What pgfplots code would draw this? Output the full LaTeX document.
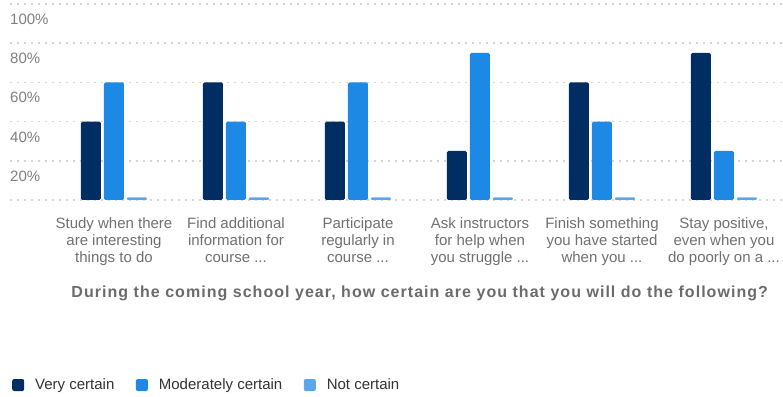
\documentclass[border=0pt]{standalone}
\usepackage{pgfplots}
\pgfplotsset{compat=1.18}
\usepackage{fontspec}
\setmainfont{Liberation Sans}
\newfontfamily\ttlfont[LetterSpace=6.5]{Liberation Sans}
\definecolor{vc}{HTML}{002D62}
\definecolor{mc}{HTML}{1E88E5}
\definecolor{nc}{HTML}{5AA6EC}
\definecolor{tickc}{HTML}{808080}
\definecolor{labc}{HTML}{707070}
\definecolor{ttlc}{HTML}{6B6B6B}
\definecolor{legc}{HTML}{333333}
\definecolor{grdc}{HTML}{D4D4D4}
\newcommand\ddd{.\kern0pt.\kern0pt.}
\begin{document}
\begin{tikzpicture}
\useasboundingbox (0,0) rectangle (783pt,396pt);
\begin{axis}[
 at={(10pt,392pt)}, anchor=north west,
 scale only axis, width=773pt, height=196pt,
 xmin=-0.852, xmax=5.484, ymin=0, ymax=100,
 axis line style={draw=none},
 major tick length=0pt,
 ytick={0,20,40,60,80,100},
 yticklabels={{},20\%,40\%,60\%,80\%,100\%},
 yticklabel style={anchor=base west, inner sep=0pt, yshift=-20.5pt, text=tickc, font=\fontsize{15}{18}\selectfont},
 ymajorgrids,
 grid style={grdc, line width=1.6pt, dash pattern=on 1.6pt off 5.4pt},
 xtick={0,1,2,3,4,5},
 xticklabels={{Study when there\\are interesting\\things to do},{Find additional\\information for\\course \ddd},{Participate\\regularly in\\course \ddd},{Ask instructors\\for help when\\you struggle \ddd},{Finish something\\you have started\\when you \ddd},{Stay positive,\\even when you\\do poorly on a \ddd}},
 xticklabel style={align=center, anchor=north, yshift=-14pt, text=labc, font=\fontsize{15}{16.8}\selectfont},
 xlabel={During the coming school year, how certain are you that you will do the following?},
 xlabel style={at={(axis description cs:0.530,-0.474)}, anchor=center, font=\ttlfont\bfseries\fontsize{16}{18}\selectfont, text=ttlc},
 ybar, bar width=20pt,
 legend columns=3,
 legend style={draw=none, fill=none, at={(axis description cs:0.0026,-0.944)}, anchor=west, font=\fontsize{15}{18}\selectfont, text=legc, inner sep=0pt, nodes={inner sep=0pt}, /tikz/every even column/.append style={column sep=21.5pt}},
 legend image code/.code={\fill[#1, draw=none, rounded corners=2pt] (0pt,-6pt) rectangle (12pt,6pt); \path (23pt,0pt);},
]
\addplot[fill=vc, draw=none, rounded corners=1.5pt, bar shift=-23pt] coordinates {(0,40) (1,60) (2,40) (3,25) (4,60) (5,75)};
\addlegendentry{Very certain}
\addplot[fill=mc, draw=none, rounded corners=1.5pt, bar shift=0pt] coordinates {(0,60) (1,40) (2,60) (3,75) (4,40) (5,25)};
\addlegendentry{Moderately certain}
\addplot[fill=nc, draw=none, rounded corners=1pt, bar shift=23pt] coordinates {(0,1.3) (1,1.3) (2,1.3) (3,1.3) (4,1.3) (5,1.3)};
\addlegendentry{Not certain}
\end{axis}
\end{tikzpicture}
\end{document}
